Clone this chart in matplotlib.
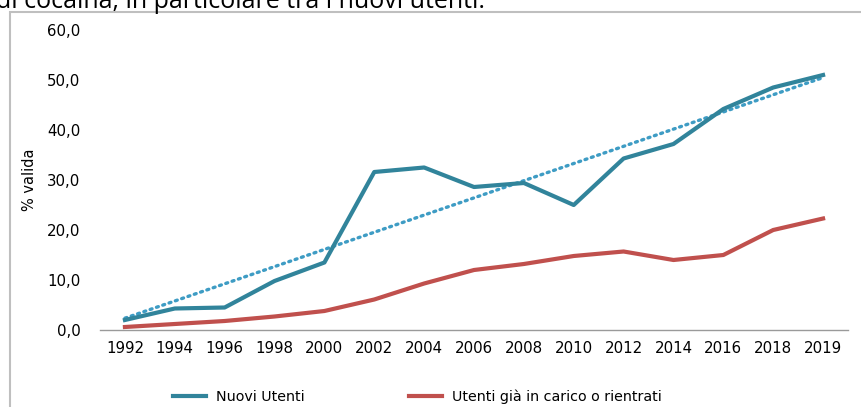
import numpy as np
import matplotlib
matplotlib.use('Agg')
import matplotlib.pyplot as plt
from matplotlib.patches import Rectangle
from matplotlib.ticker import FuncFormatter

# data
anni = ['1992', '1994', '1996', '1998', '2000', '2002', '2004', '2006',
        '2008', '2010', '2012', '2014', '2016', '2018', '2019']
nuovi = [2.0, 4.3, 4.5, 9.8, 13.5, 31.6, 32.5, 28.6, 29.4, 25.0,
         34.3, 37.2, 44.2, 48.5, 51.0]
gia_in_carico = [0.6, 1.2, 1.8, 2.7, 3.8, 6.1, 9.3, 12.0, 13.2, 14.8,
                 15.7, 14.0, 15.0, 20.0, 22.3]

plt.rcParams['font.family'] = 'DejaVu Sans'

fig = plt.figure(figsize=(8.61, 4.07), dpi=100)
W, H = 861.0, 407.0
ax = fig.add_axes([100 / W, 1 - 330 / H, (848 - 100) / W, 300 / H])

x = np.arange(len(anni))

# linear trend of the new users (excel style trendline)
coef = np.polyfit(x, nuovi, 1)
ax.plot(x, np.polyval(coef, x), linestyle=(0, (0.6, 1.4)), color='#3e9cc4',
        linewidth=2.4, dash_capstyle='round', zorder=2)

ax.plot(x, nuovi, color='#31849b', linewidth=3.0, label='Nuovi Utenti', zorder=3)
ax.plot(x, gia_in_carico, color='#c0504d', linewidth=3.0,
        label='Utenti già in carico o rientrati', zorder=3)

ax.set_xlim(-0.5, len(anni) - 0.5)
ax.set_ylim(0, 60)
ax.set_xticks(x)
ax.set_xticklabels(anni)
ax.set_yticks(np.arange(0, 61, 10))
ax.yaxis.set_major_formatter(FuncFormatter(lambda v, p: ('%.1f' % v).replace('.', ',')))
ax.tick_params(axis='both', length=0, labelsize=10.8, colors='#000000')
ax.tick_params(axis='x', pad=8)
ax.tick_params(axis='y', pad=14)

for s in ['top', 'right', 'left']:
    ax.spines[s].set_visible(False)
ax.spines['bottom'].set_color('#9a9a9a')
ax.spines['bottom'].set_linewidth(1.0)

fig.text(30 / W, 1 - 180 / H, '% valida', rotation=90, ha='center', va='center',
         fontsize=10.5)

leg = fig.legend(loc='center', bbox_to_anchor=(417 / W, 1 - 397 / H), ncol=2,
                 frameon=False, fontsize=10.3, handlelength=2.3,
                 columnspacing=7.3, handletextpad=0.7, borderpad=0)

# chart frame and the cut caption above it
fig.patches.append(Rectangle((10 / W, -0.1), 1.0, 1 - 12 / H + 0.1,
                             transform=fig.transFigure, fill=False,
                             edgecolor='#bfbfbf', linewidth=1.5))
fig.text(-4 / W, 1 - 8 / H, 'di cocaina, in particolare tra i nuovi utenti.',
         fontsize=18, family='Open Sans', va='baseline', ha='left')

fig.savefig('out.png', dpi=100)
